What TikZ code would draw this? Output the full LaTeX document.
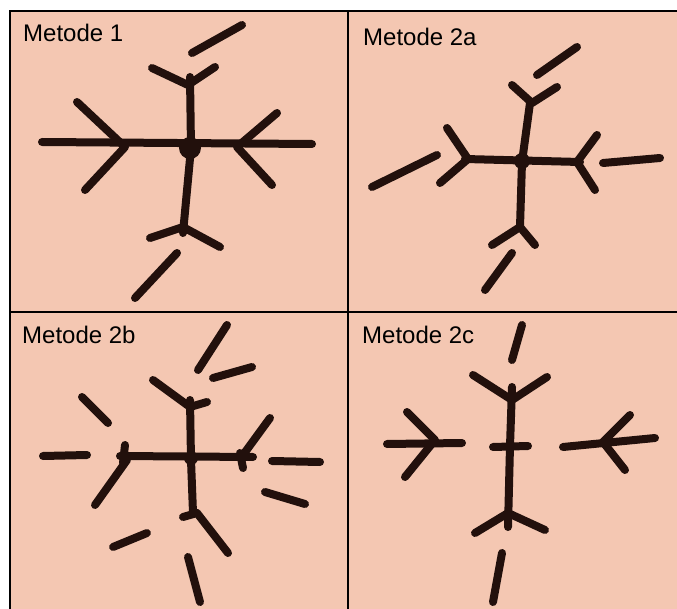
\documentclass[tikz,border=0pt]{standalone}
\usepackage{fontspec}
\setmainfont{Liberation Sans}
\usepackage{tikz}
\usetikzlibrary{positioning,calc}
\definecolor{paperpink}{RGB}{244,199,178}
\definecolor{inkbrown}{RGB}{34,16,12}

\begin{document}
\begin{tikzpicture}[x=1pt,y=-1pt,
    brush/.style={inkbrown, line width=8pt, line cap=round, line join=round},
    frameline/.style={black, line width=2pt},
    panellabel/.style={anchor=base west, inner sep=0pt, font=\fontsize{24}{27}\selectfont}]
        \useasboundingbox (0,0) rectangle (677,609);
        % Paper and frame
        \fill[white] (0,0) rectangle (677,609);
        \fill[paperpink] (10,11) rectangle (677,609);
        \draw[frameline] (677,11) -- (10,11) -- (10,609);
        \draw[frameline] (348,11) -- (348,609);
        \draw[frameline] (10,312) -- (677,312);
        \node[panellabel] (m1) at (23,42) {Metode 1};
        \node[panellabel] (m2a) at (363,46) {Metode 2a};
        \node[panellabel] (m2b) at (22,344) {Metode 2b};
        \node[panellabel] (m2c) at (362,344) {Metode 2c};
        % Metode 1
        \draw[brush] (42,142) -- (312,144);
        \draw[brush] (77,102) -- (125,147) -- (85,190);
        \draw[brush] (277,113) -- (237,147) -- (272,185);
        \draw[brush] (190,77) -- (191,148) -- (183,233);
        \draw[brush] (152,68) -- (188,85) -- (215,67);
        \draw[brush] (150,238) -- (183,227) -- (220,247);
        \fill[inkbrown] (190,148) circle (11);
        \draw[brush] (192,53) -- (242,25);
        \draw[brush] (177,253) -- (135,298);
        % Metode 2a
        \draw[brush] (465,159) -- (580,162);
        \draw[brush] (447,128) -- (468,159) -- (440,183);
        \draw[brush] (597,135) -- (577,162) -- (595,190);
        \draw[brush] (530,103) -- (522,162) -- (520,227);
        \draw[brush] (512,85) -- (532,103) -- (557,87);
        \draw[brush] (492,245) -- (520,227) -- (535,245);
        \fill[inkbrown] (522,161) circle (8);
        \draw[brush] (537,75) -- (577,47);
        \draw[brush] (372,187) -- (437,155);
        \draw[brush] (603,163) -- (660,158);
        \draw[brush] (512,253) -- (485,290);
        % Metode 2b
        \draw[brush] (120,456) -- (253,457);
        \draw[brush] (190,400) -- (191,460) -- (193,513);
        \draw[brush] (153,380) -- (190,407) -- (207,402);
        \draw[brush] (125,445) -- (123,463);
        \draw[brush] (127,460) -- (95,505);
        \draw[brush] (240,453) -- (243,468);
        \draw[brush] (243,455) -- (270,418);
        \draw[brush] (183,517) -- (197,513) -- (228,553);
        \fill[inkbrown] (191,458) circle (7);
        \draw[brush] (198,370) -- (227,325);
        \draw[brush] (213,378) -- (252,367);
        \draw[brush] (82,397) -- (108,423);
        \draw[brush] (43,456) -- (87,455);
        \draw[brush] (272,461) -- (320,462);
        \draw[brush] (265,492) -- (305,504);
        \draw[brush] (113,547) -- (147,533);
        \draw[brush] (188,557) -- (200,602);
        % Metode 2c
        \draw[brush] (512,387) -- (510,446) -- (508,527);
        \draw[brush] (473,375) -- (512,400) -- (547,377);
        \draw[brush] (493,447) -- (528,446);
        \draw[brush] (475,533) -- (508,513) -- (545,530);
        \draw[brush] (387,444) -- (462,443);
        \draw[brush] (407,412) -- (435,440) -- (405,477);
        \draw[brush] (563,447) -- (655,438);
        \draw[brush] (630,415) -- (603,442) -- (625,470);
        \draw[brush] (512,360) -- (522,325);
        \draw[brush] (502,553) -- (493,602);
    \end{tikzpicture}
\end{document}
